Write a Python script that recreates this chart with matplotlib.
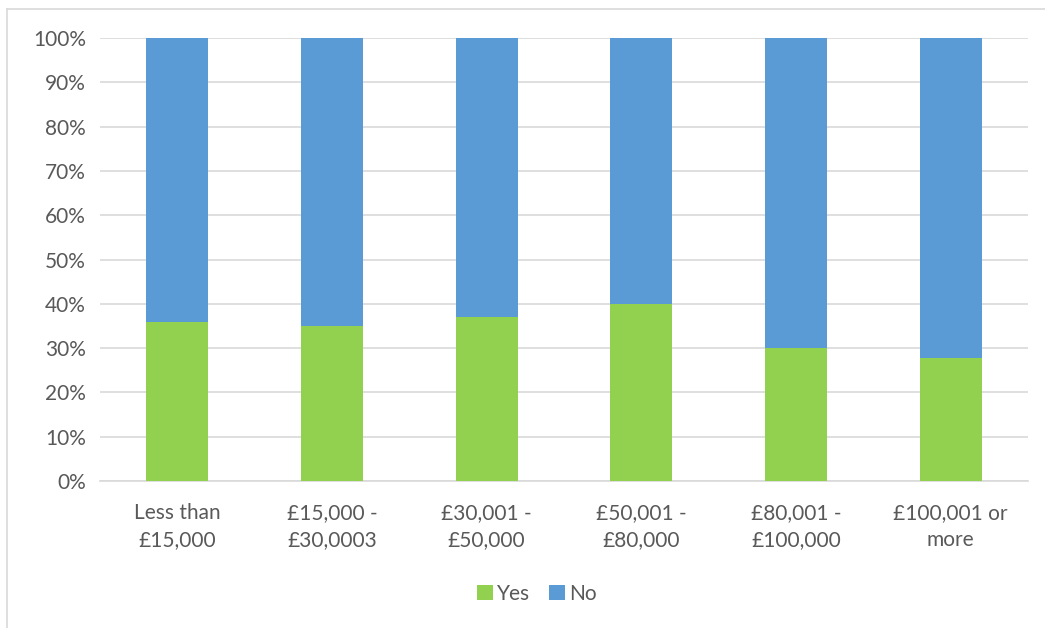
import matplotlib
matplotlib.use("Agg")
import matplotlib.pyplot as plt
from matplotlib.lines import Line2D
from matplotlib.ticker import PercentFormatter
import numpy as np

categories = ["Less than\n£15,000", "£15,000 -\n£30,0003", "£30,001 -\n£50,000",
              "£50,001 -\n£80,000", "£80,001 -\n£100,000", "£100,001 or\nmore"]
yes_share = [0.36, 0.35, 0.37, 0.40, 0.30, 0.278]
no_share = [1 - v for v in yes_share]

GREEN = "#92D050"
BLUE = "#5B9BD5"
TEXT = "#595959"
GRID = "#D9D9D9"

plt.rcParams["font.family"] = ["Lato", "DejaVu Sans"]

fig = plt.figure(figsize=(10.45, 6.28), dpi=100)
ax = fig.add_axes([100 / 1045, 1 - 481 / 628, 928 / 1045, 443 / 628])

x = np.arange(len(categories))
ax.bar(x, yes_share, width=0.4, color=GREEN, label="Yes", zorder=3)
ax.bar(x, no_share, width=0.4, bottom=yes_share, color=BLUE, label="No", zorder=3)

ax.set_xlim(-0.5, len(categories) - 0.5)
ax.set_ylim(0, 1)
ax.set_yticks(np.linspace(0, 1, 11))
ax.yaxis.set_major_formatter(PercentFormatter(1.0, decimals=0))
ax.set_xticks(x)
ax.set_xticklabels(categories, linespacing=1.45)
ax.grid(axis="y", color=GRID, linewidth=1.2, zorder=0)
for side in ["top", "right", "left"]:
    ax.spines[side].set_visible(False)
ax.spines["bottom"].set_color(GRID)
ax.spines["bottom"].set_linewidth(1.2)
ax.tick_params(axis="both", length=0, labelsize=15, colors=TEXT)
ax.tick_params(axis="y", pad=10)
ax.tick_params(axis="x", pad=16)

leg = fig.legend(loc="center", bbox_to_anchor=(537 / 1045, 1 - 594 / 628), ncol=2,
                 frameon=False, fontsize=15, handlelength=0.75, handleheight=0.75,
                 handletextpad=0.2, columnspacing=0.9)
for t in leg.get_texts():
    t.set_color(TEXT)

# chart area border (top and left edges)
fig.add_artist(Line2D([7 / 1045, 7 / 1045], [0, 1 - 9 / 628], transform=fig.transFigure,
                      color=GRID, linewidth=1.2))
fig.add_artist(Line2D([7 / 1045, 1], [1 - 9 / 628, 1 - 9 / 628], transform=fig.transFigure,
                      color=GRID, linewidth=1.2))

fig.savefig("out.png", dpi=100, facecolor="white")
